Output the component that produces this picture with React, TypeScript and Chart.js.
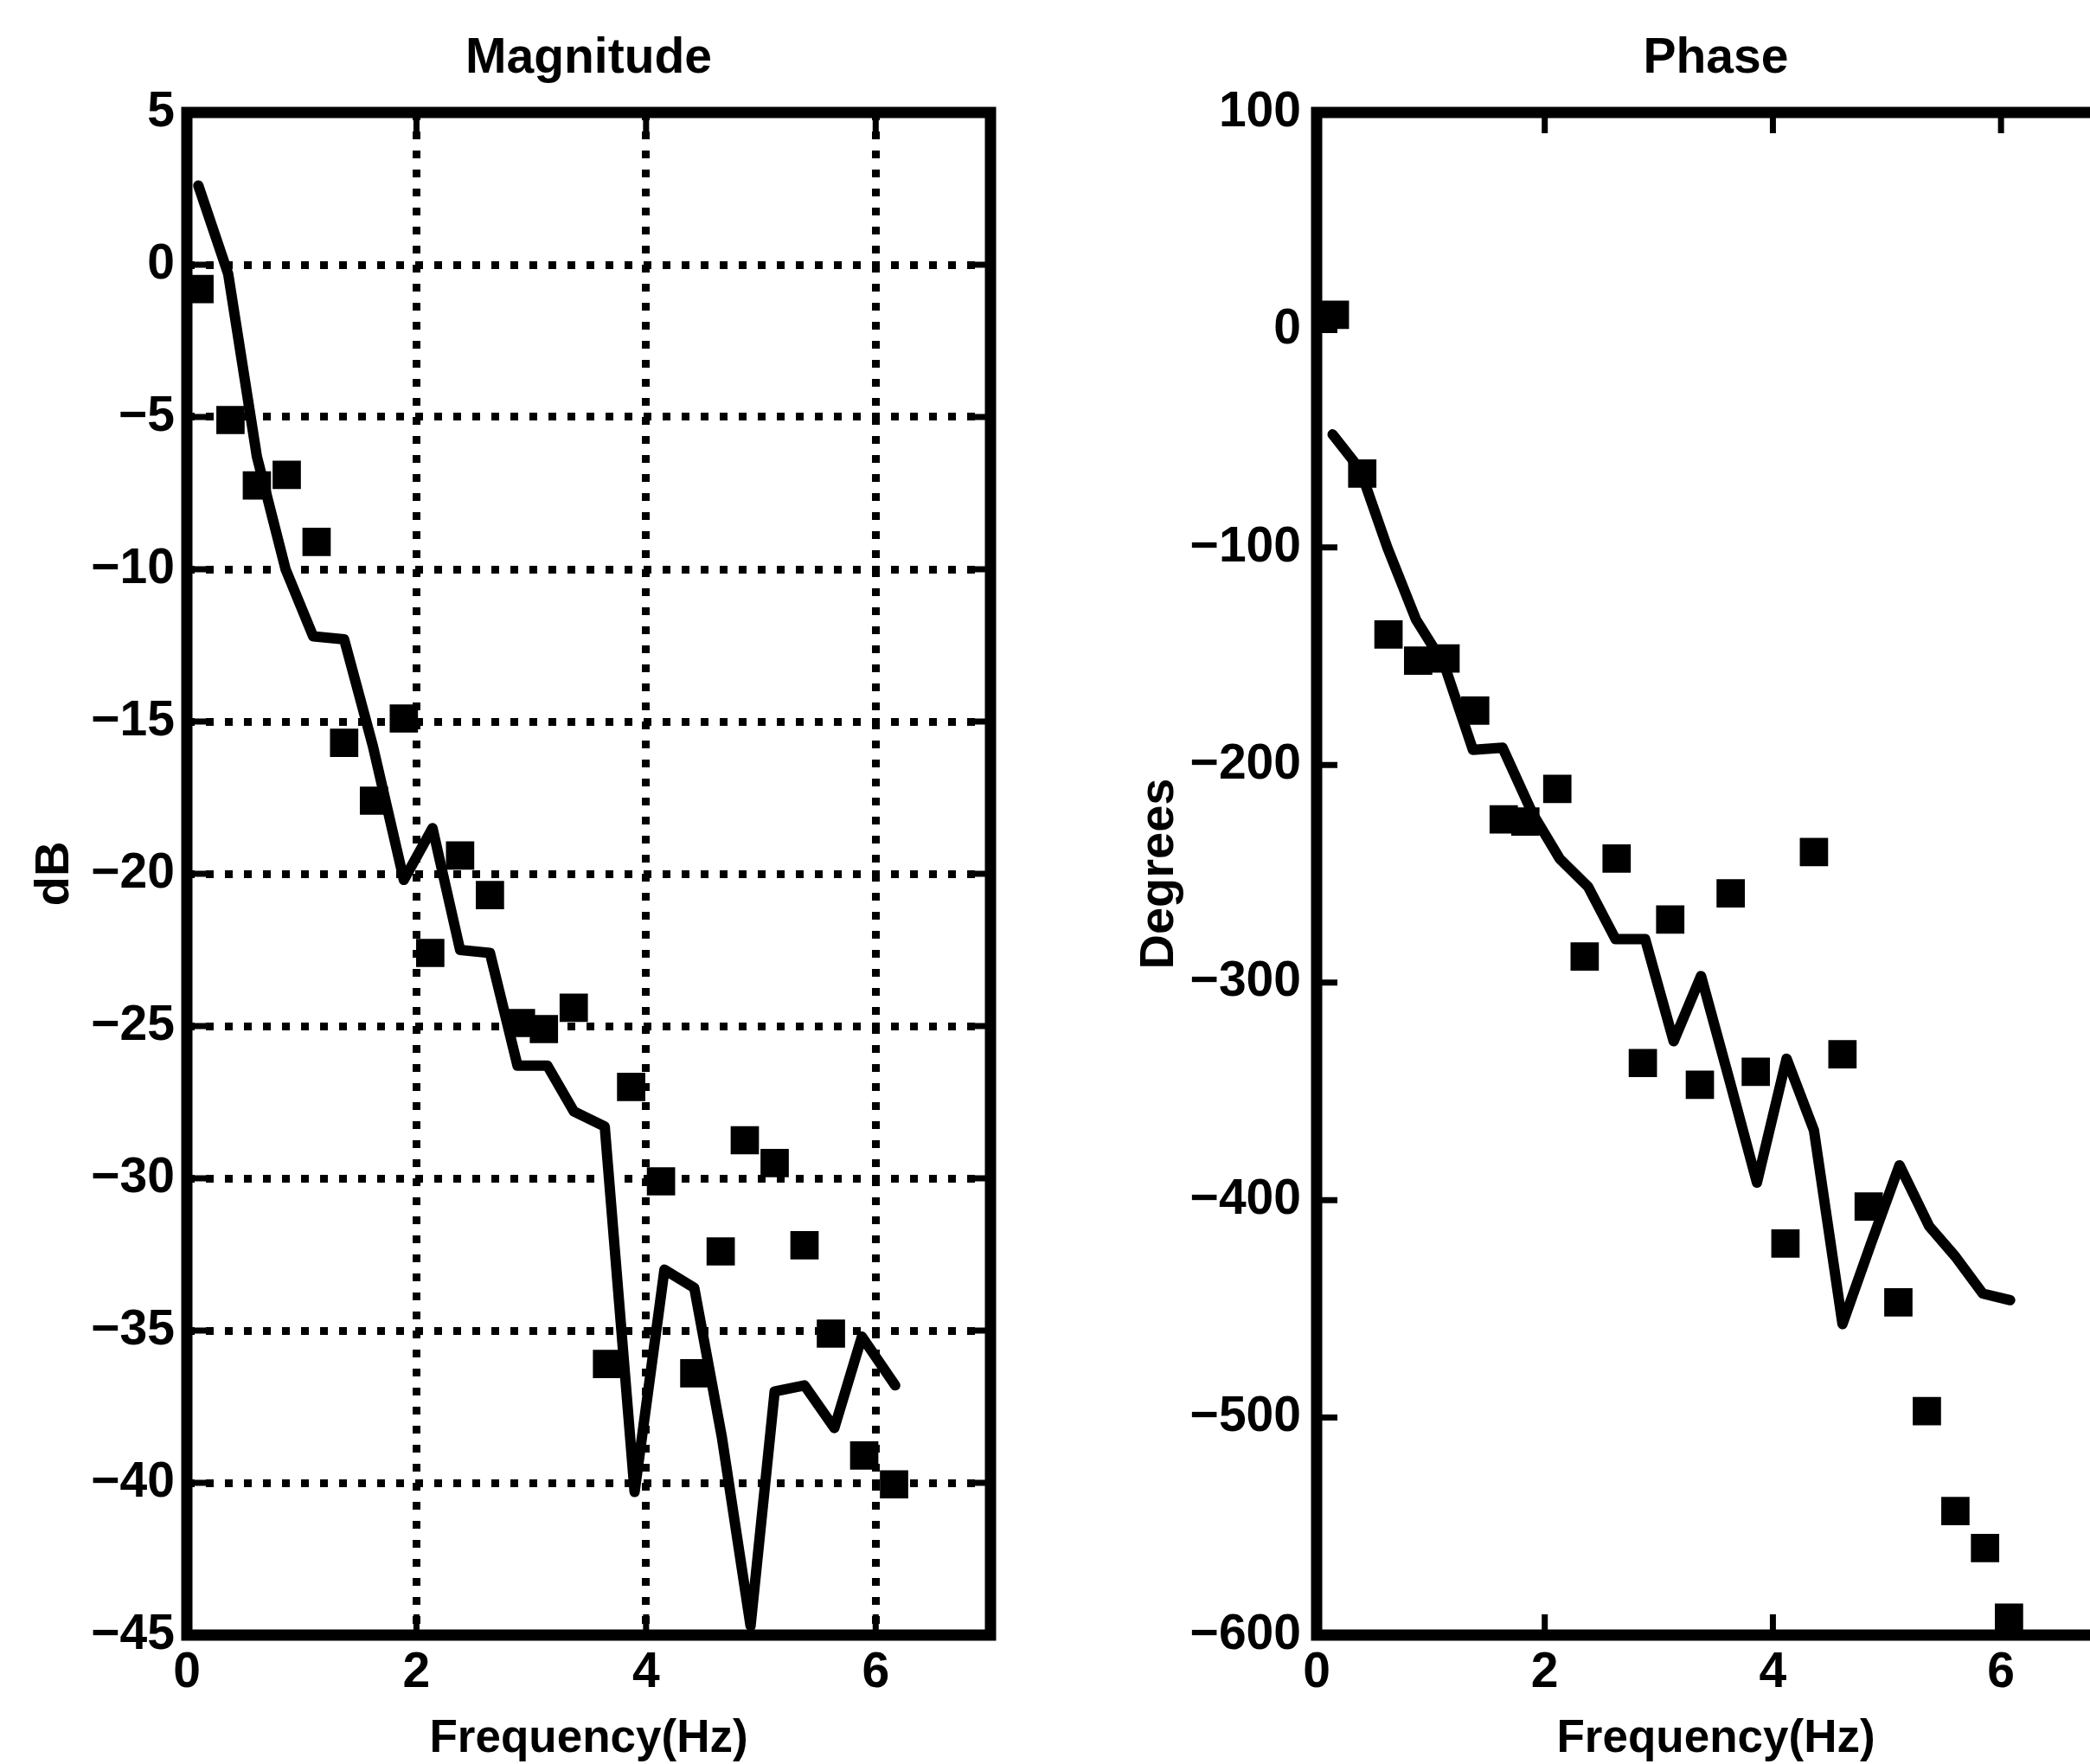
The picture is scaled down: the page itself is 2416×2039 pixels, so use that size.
import React, { useEffect, useRef } from 'react';
import { Chart, registerables } from 'chart.js';

Chart.register(...registerables);

// ---------- data ----------
const freqTicks = [0, 2, 4, 6];
const magYTicks = [-45, -40, -35, -30, -25, -20, -15, -10, -5, 0, 5];
const phaseYTicks = [-600, -500, -400, -300, -200, -100, 0, 100];

const magModelFreq = [0.10, 0.36, 0.61, 0.86, 1.10, 1.37, 1.62, 1.89, 2.14, 2.38, 2.64, 2.88, 3.14, 3.37, 3.64, 3.90, 4.16, 4.42, 4.66, 4.91, 5.12, 5.38, 5.64, 5.88, 6.17];
const magModel = [2.6, -0.3, -6.3, -10.0, -12.2, -12.3, -15.8, -20.2, -18.5, -22.5, -22.6, -26.3, -26.3, -27.8, -28.3, -40.3, -33.0, -33.6, -38.5, -44.7, -37.0, -36.8, -38.2, -35.2, -36.8];

const magDataFreq = [0.11, 0.38, 0.61, 0.87, 1.13, 1.37, 1.63, 1.89, 2.12, 2.38, 2.64, 2.91, 3.11, 3.37, 3.66, 3.87, 4.13, 4.42, 4.65, 4.86, 5.12, 5.38, 5.61, 5.90, 6.16];
const magData = [-0.8, -5.1, -7.25, -6.9, -9.1, -15.7, -17.6, -14.9, -22.6, -19.4, -20.7, -24.9, -25.1, -24.4, -36.1, -27.0, -30.1, -36.4, -32.4, -28.75, -29.5, -32.2, -35.1, -39.1, -40.05];

const phaseModelFreq = [0.14, 0.38, 0.62, 0.87, 1.12, 1.37, 1.63, 1.89, 2.13, 2.38, 2.62, 2.88, 3.13, 3.37, 3.62, 3.86, 4.12, 4.36, 4.61, 4.86, 5.11, 5.37, 5.60, 5.84, 6.08];
const phaseModel = [-48, -64, -100, -133, -154, -193, -192, -222, -243, -256, -280, -280, -327, -297, -345, -392, -335, -368, -457, -420, -384, -412, -426, -443, -446];

const phaseDataFreq = [0.16, 0.40, 0.63, 0.89, 1.13, 1.39, 1.64, 1.83, 2.11, 2.35, 2.63, 2.86, 3.10, 3.36, 3.63, 3.85, 4.11, 4.36, 4.61, 4.84, 5.10, 5.35, 5.60, 5.86, 6.07];
const phaseData = [7, -66, -140, -152, -151, -175, -225, -226, -211, -288, -243, -337, -271, -347, -259, -341, -420, -240, -333, -403, -447, -497, -543, -560, -592];

// ---------- helpers ----------
const FONT = "'Liberation Sans', Arial, Helvetica, sans-serif";
const CANVAS_H = 2080;
const AREA_TOP = 130;
const AREA_BOTTOM = 1890;
const pts = (xs: number[], ys: number[]) => xs.map((x, i) => ({ x, y: ys[i] }));
const fmt = (v: any) => String(v).replace('-', '\u2212');

const framePlugin = {
  id: 'frame',
  afterDraw(chart: any) {
    const { ctx, chartArea } = chart;
    const { left, top, right, bottom } = chartArea;
    const xs = chart.scales.x;
    const ys = chart.scales.y;
    const L = 24;
    ctx.save();
    ctx.strokeStyle = '#000';
    ctx.lineWidth = 7;
    ctx.beginPath();
    for (const t of xs.ticks) {
      const px = xs.getPixelForValue(t.value);
      ctx.moveTo(px, top);
      ctx.lineTo(px, top + L);
      ctx.moveTo(px, bottom);
      ctx.lineTo(px, bottom - L);
    }
    for (const t of ys.ticks) {
      const py = ys.getPixelForValue(t.value);
      ctx.moveTo(left, py);
      ctx.lineTo(left + L, py);
      ctx.moveTo(right, py);
      ctx.lineTo(right - L, py);
    }
    ctx.stroke();
    ctx.lineWidth = 13;
    ctx.lineJoin = 'miter';
    ctx.strokeRect(left, top, right - left, bottom - top);
    ctx.restore();
  },
};

function makeConfig(opts: {
  title: string;
  yTitle: string;
  yTicks: number[];
  modelX: number[];
  modelY: number[];
  dataX: number[];
  dataY: number[];
  grid: boolean;
  yWidth: number;
  yTitlePad: number;
  padRight: number;
  yLabelPad: number;
}): any {
  const tickFont = { family: FONT, size: 57, weight: 'bold' as const, lineHeight: 1 };
  const titleFont = { family: FONT, size: 57, weight: 'bold' as const, lineHeight: 1 };
  const yTitleFont = { family: FONT, size: 56, weight: 'bold' as const, lineHeight: 1 };
  const xTitleFont = { family: FONT, size: 53, weight: 'bold' as const, lineHeight: 1 };
  const yMin = opts.yTicks[0];
  const yMax = opts.yTicks[opts.yTicks.length - 1];
  return {
    type: 'scatter',
    data: {
      datasets: [
        {
          label: 'model',
          data: pts(opts.modelX, opts.modelY),
          showLine: true,
          borderColor: '#000',
          borderWidth: 12,
          borderJoinStyle: 'round',
          borderCapStyle: 'round',
          pointRadius: 0,
          pointHoverRadius: 0,
          tension: 0,
        },
        {
          label: 'measured',
          data: pts(opts.dataX, opts.dataY),
          showLine: false,
          pointStyle: 'rect',
          pointRadius: 21,
          pointBorderWidth: 3,
          pointBorderColor: '#000',
          pointBackgroundColor: '#000',
        },
      ],
    },
    options: {
      responsive: false,
      animation: false,
      devicePixelRatio: 1,
      layout: { padding: { left: 0, top: 0, bottom: 0, right: opts.padRight } },
      plugins: {
        legend: { display: false },
        tooltip: { enabled: false },
        title: {
          display: true,
          fullSize: false,
          text: opts.title,
          color: '#000',
          font: titleFont,
          padding: { top: 40, bottom: AREA_TOP - 40 - 57 },
        },
      },
      scales: {
        x: {
          type: 'linear',
          min: 0,
          max: 7,
          afterBuildTicks: (scale: any) => {
            scale.ticks = freqTicks.map((v) => ({ value: v }));
          },
          afterFit: (scale: any) => {
            scale.height = CANVAS_H - AREA_BOTTOM;
          },
          ticks: {
            color: '#000',
            font: tickFont,
            padding: 16,
            maxRotation: 0,
            autoSkip: false,
            callback: (v: any) => fmt(v),
          },
          grid: {
            display: opts.grid,
            color: '#000',
            lineWidth: 9,
            drawTicks: false,
          },
          border: { display: false, dash: [9, 13] },
          title: {
            display: true,
            text: 'Frequency(Hz)',
            color: '#000',
            font: xTitleFont,
            padding: { top: 0, bottom: CANVAS_H - 2011 - 26 },
          },
        },
        y: {
          type: 'linear',
          min: yMin,
          max: yMax,
          afterBuildTicks: (scale: any) => {
            scale.ticks = opts.yTicks.map((v) => ({ value: v }));
          },
          afterFit: (scale: any) => {
            scale.width = opts.yWidth;
          },
          ticks: {
            color: '#000',
            font: tickFont,
            padding: opts.yLabelPad,
            autoSkip: false,
            callback: (v: any) => fmt(v),
          },
          grid: {
            display: opts.grid,
            color: '#000',
            lineWidth: 9,
            drawTicks: false,
          },
          border: { display: false, dash: [9, 13] },
          title: {
            display: true,
            text: opts.yTitle,
            color: '#000',
            font: yTitleFont,
            padding: { top: opts.yTitlePad, bottom: 0 },
          },
        },
      },
    },
    plugins: [framePlugin],
  };
}

export default function App() {
  const ref1 = useRef<HTMLCanvasElement>(null);
  const ref2 = useRef<HTMLCanvasElement>(null);

  useEffect(() => {
    const c1 = new Chart(
      ref1.current as HTMLCanvasElement,
      makeConfig({
        title: 'Magnitude',
        yTitle: 'dB',
        yTicks: magYTicks,
        modelX: magModelFreq,
        modelY: magModel,
        dataX: magDataFreq,
        dataY: magData,
        grid: true,
        yWidth: 216,
        yTitlePad: 36,
        padRight: 1340 - 1145,
        yLabelPad: 14,
      })
    );
    const c2 = new Chart(
      ref2.current as HTMLCanvasElement,
      makeConfig({
        title: 'Phase',
        yTitle: 'Degrees',
        yTicks: phaseYTicks,
        modelX: phaseModelFreq,
        modelY: phaseModel,
        dataX: phaseDataFreq,
        dataY: phaseData,
        grid: false,
        yWidth: 282,
        yTitlePad: 73,
        padRight: 1472 - 1205,
        yLabelPad: 18,
      })
    );
    return () => {
      c1.destroy();
      c2.destroy();
    };
  }, []);

  return (
    <div
      style={{
        position: 'fixed',
        left: 0,
        top: 0,
        width: 2416,
        height: 2039,
        overflow: 'hidden',
        background: '#fff',
      }}
    >
      <canvas
        ref={ref1}
        width={1340}
        height={CANVAS_H}
        style={{ position: 'absolute', left: 0, top: 0, width: 1340, height: CANVAS_H }}
      />
      <canvas
        ref={ref2}
        width={1472}
        height={CANVAS_H}
        style={{ position: 'absolute', left: 1240, top: 0, width: 1472, height: CANVAS_H }}
      />
    </div>
  );
}
